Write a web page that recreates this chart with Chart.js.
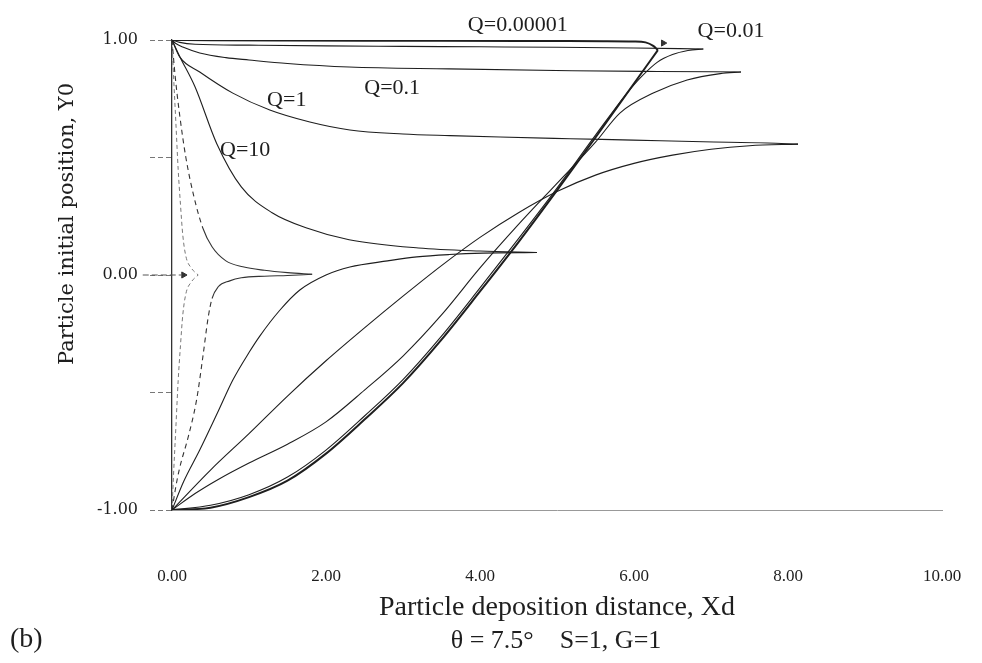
<!DOCTYPE html>
<html>
<head>
<meta charset="utf-8">
<title>Particle deposition distance</title>
<script src="https://cdn.jsdelivr.net/npm/chart.js@4.4.1/dist/chart.umd.min.js"></script>
<style>
    html, body { margin: 0; padding: 0; background: #fff; }
    #wrap { width: 982px; height: 663px; }
</style>
</head>
<body>
<div id="wrap"><canvas id="grafikDeposisi" width="982" height="663"></canvas></div>
<script>
// ---- data (Xd, Y0) ----
// Q = 0.00001 (thick)
const q00001UpX = [0, 0.5, 1.5, 3.0, 4.5, 5.6, 6.0, 6.15, 6.25, 6.31];
const q00001UpY = [1, 0.999, 0.998, 0.997, 0.996, 0.995, 0.994, 0.99, 0.975, 0.957];
const q00001LoX = [0, 0.5, 1.0, 1.5, 2.0, 2.5, 3.0, 3.5, 4.0, 4.5, 5.0, 5.5, 6.0, 6.31];
const q00001LoY = [-1, -0.99, -0.945, -0.875, -0.76, -0.615, -0.46, -0.275, -0.07, 0.14, 0.36, 0.585, 0.815, 0.957];

// Q = 0.01
const q001UpX = [0, 0.1, 0.3, 1.0, 2.0, 3.0, 4.0, 5.0, 6.0, 6.9];
const q001UpY = [1, 0.99, 0.982, 0.978, 0.975, 0.973, 0.971, 0.969, 0.966, 0.962];
const q001LoX = [0, 0.5, 1.0, 1.5, 2.0, 2.5, 3.0, 3.5, 4.0, 4.5, 5.0, 5.5, 5.9, 6.1, 6.3, 6.5, 6.7, 6.9];
const q001LoY = [-1, -0.98, -0.935, -0.86, -0.745, -0.6, -0.445, -0.26, -0.055, 0.155, 0.37, 0.595, 0.77, 0.845, 0.905, 0.938, 0.955, 0.962];

// Q = 0.1
const q01UpX = [0, 0.05, 0.14, 0.36, 0.7, 1.0, 1.5, 2.3, 3.6, 5.2, 6.3, 7.39];
const q01UpY = [1, 0.985, 0.97, 0.945, 0.925, 0.915, 0.9, 0.885, 0.877, 0.869, 0.866, 0.864];
const q01LoX = [0, 0.3, 0.6, 1.0, 1.5, 2.0, 2.5, 3.0, 3.5, 4.0, 4.5, 5.0, 5.5, 5.82, 6.25, 6.69, 7.12, 7.39];
const q01LoY = [-1, -0.93, -0.87, -0.8, -0.72, -0.625, -0.49, -0.345, -0.17, 0.03, 0.215, 0.39, 0.565, 0.69, 0.774, 0.83, 0.857, 0.864];

// Q = 1
const q1UpX = [0, 0.1, 0.36, 0.79, 1.27, 1.79, 2.31, 3.0, 3.61, 4.26, 5.17, 5.99, 6.9, 7.73, 8.13];
const q1UpY = [1, 0.928, 0.864, 0.774, 0.702, 0.651, 0.617, 0.6, 0.593, 0.587, 0.58, 0.574, 0.567, 0.562, 0.557];
const q1LoX = [0, 0.5, 1.0, 1.5, 2.0, 2.5, 3.0, 3.5, 4.0, 4.5, 5.0, 5.5, 6.0, 6.5, 7.0, 7.5, 8.13];
const q1LoY = [-1, -0.83, -0.675, -0.515, -0.365, -0.225, -0.09, 0.04, 0.16, 0.265, 0.355, 0.425, 0.475, 0.51, 0.535, 0.55, 0.557];

// Q = 10
const q10UpX = [0, 0.1, 0.3, 0.58, 0.9, 1.3, 1.75, 2.3, 3.2, 4.0, 4.74];
const q10UpY = [1, 0.93, 0.8, 0.56, 0.375, 0.265, 0.2, 0.15, 0.115, 0.102, 0.096];
const q10LoX = [0, 0.15, 0.36, 0.6, 0.79, 1.0, 1.14, 1.4, 1.66, 2.0, 2.31, 2.8, 3.18, 3.6, 4.04, 4.74];
const q10LoY = [-1, -0.88, -0.745, -0.58, -0.447, -0.33, -0.26, -0.15, -0.064, 0.0, 0.034, 0.06, 0.077, 0.087, 0.093, 0.096];

// Q = 100 (steep part printed dashed)
const q100UpX = [0, 0.04, 0.1, 0.18, 0.28, 0.4, 0.52, 0.7, 0.92, 1.2, 1.5, 1.82];
const q100UpY = [1, 0.85, 0.68, 0.5, 0.34, 0.2, 0.12, 0.06, 0.035, 0.02, 0.01, 0.003];
const q100LoX = [0, 0.05, 0.1, 0.21, 0.32, 0.4, 0.47, 0.52, 0.6, 0.75, 0.9, 1.2, 1.5, 1.82];
const q100LoY = [-1, -0.9, -0.82, -0.69, -0.53, -0.35, -0.18, -0.1, -0.05, -0.025, -0.012, -0.005, -0.002, 0.003];

// Q = 1000 (dashed, hugging the wall)
const q1000X = [0, 0.02, 0.05, 0.08, 0.11, 0.14, 0.18, 0.25, 0.34];
const q1000UpY = [1, 0.85, 0.65, 0.45, 0.3, 0.17, 0.08, 0.03, 0];
const q1000LoY = [-1, -0.85, -0.65, -0.45, -0.3, -0.17, -0.08, -0.03, 0];

// panah pada Y0 = 0 dan ujung panah
const arrowX = [-0.38, 0.12];
const arrowY = [0, 0];
const arrowHeadX = [0.15, 6.38];
const arrowHeadY = [0, 0.987];

// label Q
const qLabels = ['Q=0.00001', 'Q=0.01', 'Q=0.1', 'Q=1', 'Q=10'];
const qLabelX = [4.49, 7.26, 2.86, 1.49, 0.95];
const qLabelY = [1.064, 1.038, 0.796, 0.745, 0.532];

// tick labels
const xTicks = [0, 2, 4, 6, 8, 10];
const yTicks = [-1, 0, 1];

const SERIF = "'Liberation Serif', 'Times New Roman', serif";
const WIDE_SERIF = "'DejaVu Serif', serif";
const INK = '#1e1e1e';

const zip = (xs, ys) => xs.map((x, i) => ({ x: x, y: ys[i] }));

function curve(label, xs, ys, extra) {
    return Object.assign({
        label: label,
        data: zip(xs, ys),
        showLine: true,
        pointRadius: 0,
        borderColor: INK,
        borderWidth: 1.1,
        cubicInterpolationMode: 'monotone',
    }, extra || {});
}

// segmen curam digambar putus-putus (seperti hasil cetak aslinya)
const steepDash = {
    borderDash: ctx => {
        const dx = ctx.p1.parsed.x - ctx.p0.parsed.x;
        const dy = ctx.p1.parsed.y - ctx.p0.parsed.y;
        return Math.abs(dy / dx) > 1.0 ? [5, 4] : undefined;
    }
};

const datasets = [
    curve('Q=0.00001 upper', q00001UpX, q00001UpY, { borderWidth: 2 }),
    curve('Q=0.00001 lower', q00001LoX, q00001LoY, { borderWidth: 2 }),
    curve('Q=0.01 upper', q001UpX, q001UpY),
    curve('Q=0.01 lower', q001LoX, q001LoY),
    curve('Q=0.1 upper', q01UpX, q01UpY),
    curve('Q=0.1 lower', q01LoX, q01LoY),
    curve('Q=1 upper', q1UpX, q1UpY),
    curve('Q=1 lower', q1LoX, q1LoY),
    curve('Q=10 upper', q10UpX, q10UpY),
    curve('Q=10 lower', q10LoX, q10LoY),
    curve('Q=100 upper', q100UpX, q100UpY, { segment: steepDash, borderColor: '#333' }),
    curve('Q=100 lower', q100LoX, q100LoY, { segment: steepDash, borderColor: '#333' }),
    curve('Q=1000 upper', q1000X, q1000UpY, { borderDash: [4, 3], borderColor: '#777', borderWidth: 1 }),
    curve('Q=1000 lower', q1000X, q1000LoY, { borderDash: [4, 3], borderColor: '#777', borderWidth: 1 }),
    curve('arrow', arrowX, arrowY, { borderDash: [6, 3], borderColor: '#555', borderWidth: 1, clip: false }),
    {
        label: 'arrow heads',
        data: zip(arrowHeadX, arrowHeadY),
        showLine: false,
        pointStyle: 'triangle',
        rotation: 90,
        pointRadius: 3.5,
        pointBackgroundColor: '#333',
        pointBorderColor: '#333',
        clip: false,
    },
];

// teks tambahan: label Q, judul sumbu Y, keterangan bawah
const extraText = {
    id: 'extraText',
    afterDraw(chart) {
        const { ctx, scales: { x, y } } = chart;
        ctx.save();
        ctx.fillStyle = INK;
        ctx.textAlign = 'center';
        ctx.textBaseline = 'middle';

        ctx.font = '22px ' + SERIF;
        qLabels.forEach((t, i) => {
            ctx.fillText(t, x.getPixelForValue(qLabelX[i]), y.getPixelForValue(qLabelY[i]));
        });

        ctx.save();
        ctx.translate(68, 224);
        ctx.rotate(-Math.PI / 2);
        ctx.font = '21px ' + WIDE_SERIF;
        ctx.fillText('Particle initial position, Y0', 0, 0);
        ctx.restore();

        ctx.font = '26px ' + SERIF;
        ctx.fillText('\u03b8 = 7.5\u00b0    S=1, G=1', 556, 641);
        ctx.textAlign = 'left';
        ctx.font = '28px ' + SERIF;
        ctx.fillText('(b)', 10, 640);
        ctx.restore();
    }
};

new Chart(document.getElementById('grafikDeposisi'), {
    type: 'scatter',
    data: { datasets: datasets },
    plugins: [extraText],
    options: {
        responsive: false,
        animation: false,
        layout: { padding: { left: 0, right: 40, top: 40, bottom: 0 } },
        plugins: {
            legend: { display: false },
            tooltip: { enabled: false }
        },
        scales: {
            x: {
                type: 'linear',
                min: 0,
                max: 10,
                afterFit: s => {
                    s.height = 153;
                    s.paddingLeft = 0;
                    s.paddingRight = 0;
                },
                afterBuildTicks: s => { s.ticks = xTicks.map(v => ({ value: v })); },
                ticks: {
                    padding: 56,
                    maxRotation: 0,
                    autoSkip: false,
                    color: INK,
                    font: { family: SERIF, size: 17 },
                    callback: v => Number(v).toFixed(2)
                },
                grid: { drawOnChartArea: false, drawTicks: false },
                border: { display: true, color: '#999', dash: [3, 4], width: 1 },
                title: {
                    display: true,
                    text: 'Particle deposition distance, Xd',
                    color: INK,
                    font: { family: SERIF, size: 28 },
                    padding: { top: 0, bottom: 39 }
                }
            },
            y: {
                type: 'linear',
                min: -1,
                max: 1,
                afterFit: s => {
                    s.width = 172;
                    s.paddingTop = 0;
                    s.paddingBottom = 0;
                },
                ticks: {
                    stepSize: 0.5,
                    padding: 12,
                    color: INK,
                    font: { family: WIDE_SERIF, size: 16 },
                    callback: v => (yTicks.includes(v) ? Number(v).toFixed(2) : '')
                },
                grid: { drawOnChartArea: false, tickLength: 22, tickColor: '#777', tickBorderDash: [5, 3] },
                border: { display: true, color: '#333', width: 1.3 }
            }
        }
    }
});
</script>
</body>
</html>
